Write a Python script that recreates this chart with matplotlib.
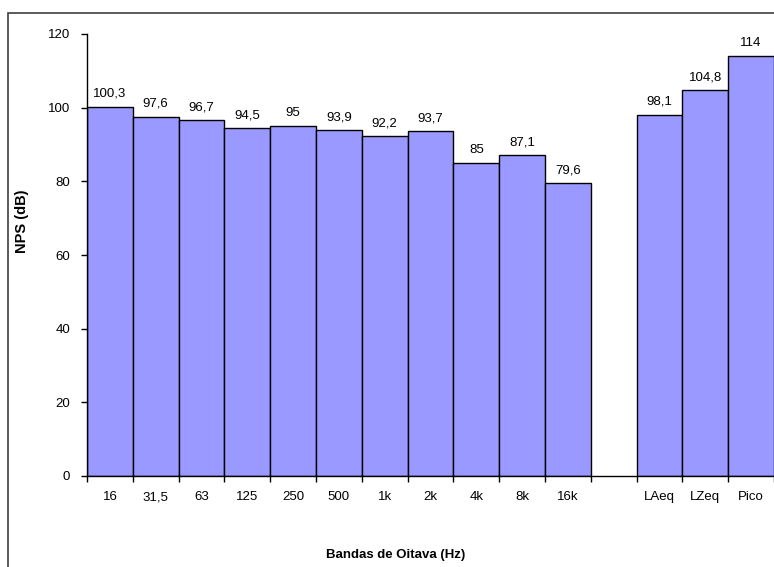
import matplotlib.pyplot as plt
import numpy as np
from matplotlib.patches import Rectangle
from matplotlib.transforms import offset_copy

plt.rcParams['font.family'] = ['Liberation Sans', 'DejaVu Sans']

# bandas de oitava + gap + niveis globais
bandas = ['16', '31,5', '63', '125', '250', '500', '1k', '2k', '4k', '8k', '16k']
nps_bandas = [100.3, 97.6, 96.7, 94.5, 95.0, 93.9, 92.2, 93.7, 85.0, 87.1, 79.6]
globais = ['LAeq', 'LZeq', 'Pico']
nps_globais = [98.1, 104.8, 114.0]

labels = bandas + [''] + globais
pos_bandas = np.arange(len(bandas))
pos_globais = np.arange(len(globais)) + len(bandas) + 1
n = len(labels)

fs = 9.5

fig = plt.figure(figsize=(7.74, 5.67), dpi=100)
ax = fig.add_axes([87/774, 1-476/567, 1-87/774, (476-34)/567])

cor = '#9999FF'
b1 = ax.bar(pos_bandas, nps_bandas, width=1.0, color=cor, edgecolor='black', linewidth=1.0)
b2 = ax.bar(pos_globais, nps_globais, width=1.0, color=cor, edgecolor='black', linewidth=1.0)

def fmt(v):
    s = ('%.1f' % v).replace('.', ',')
    return s[:-2] if s.endswith(',0') else s

for bars, vals in ((b1, nps_bandas), (b2, nps_globais)):
    for r, v in zip(bars, vals):
        ax.annotate(fmt(v), (r.get_x() + r.get_width()/2, v), xytext=(0, 7),
                    textcoords='offset points', ha='center', va='baseline', fontsize=fs)

ax.set_xlim(-0.5, n - 0.5)
ax.set_ylim(0, 120)
ax.set_yticks(np.arange(0, 121, 20))
ax.tick_params(axis='y', direction='out', length=4, width=1, labelsize=fs, pad=8)

# marcas nas fronteiras, rotulos no centro das barras (na mesma linha de base)
ax.set_xticks(np.arange(n + 1) - 0.5)
ax.set_xticklabels([])
ax.tick_params(axis='x', which='major', direction='out', length=4, width=1)
trans = offset_copy(ax.get_xaxis_transform(), fig=fig, y=-24, units='dots')
for i, lab in enumerate(labels):
    ax.text(i, 0, lab, transform=trans, ha='center', va='baseline', fontsize=fs,
            clip_on=False)

for s in ('top', 'right'):
    ax.spines[s].set_visible(False)
for s in ('left', 'bottom'):
    ax.spines[s].set_linewidth(1)

fig.text(22/774, 1-221/567, 'NPS (dB)', rotation=90, ha='center', va='center',
         fontsize=10.5, fontweight='bold')
fig.text(396/774, 1-555/567, 'Bandas de Oitava (Hz)', ha='center', va='center',
         fontsize=fs, fontweight='bold')

# moldura do grafico
fig.patches.append(Rectangle((7.5/774, -0.1), 1.2, 1.1 - 12.5/567, transform=fig.transFigure,
                             fill=False, edgecolor='#404040', linewidth=1.2))

fig.savefig('out.png', dpi=100)
